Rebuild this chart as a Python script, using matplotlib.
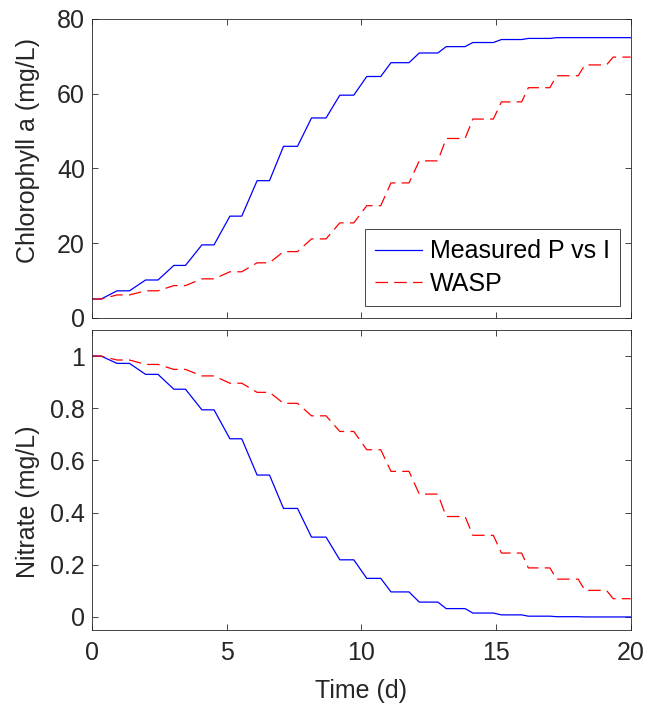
import matplotlib
matplotlib.use("Agg")
import matplotlib.pyplot as plt

# Times (d) where each daily rise/fall starts and ends
step_start = [0.34, 1.39, 2.45, 3.47, 4.53, 5.56, 6.59, 7.63, 8.69, 9.72,
              10.72, 11.77, 12.84, 13.85, 14.90, 15.95, 17.00, 18.05, 19.10]
step_end = [0.93, 1.99, 3.04, 4.08, 5.12, 6.13, 7.11, 8.15, 9.20, 10.20,
            11.10, 12.15, 13.15, 14.14, 15.20, 16.20, 17.25, 18.30, 19.35]

# Plateau values (night-time levels), one per day
chla_measured = [5.0, 7.2, 10.1, 14.0, 19.5, 27.2, 36.7, 45.9, 53.5, 59.6,
                 64.6, 68.3, 70.9, 72.6, 73.7, 74.5, 74.8, 75.0, 75.0, 75.0]
chla_wasp = [5.0, 6.1, 7.2, 8.6, 10.4, 12.3, 14.7, 17.7, 21.1, 25.4,
             30.0, 36.1, 42.0, 48.0, 53.2, 57.8, 61.6, 64.8, 67.7, 69.8]
no3_measured = [1.0, 0.972, 0.930, 0.873, 0.794, 0.683, 0.544, 0.416, 0.306, 0.219,
                0.148, 0.096, 0.057, 0.032, 0.015, 0.008, 0.003, 0.001, 0.0, 0.0]
no3_wasp = [1.0, 0.985, 0.968, 0.949, 0.924, 0.896, 0.861, 0.819, 0.771, 0.711,
            0.641, 0.558, 0.471, 0.385, 0.313, 0.245, 0.188, 0.145, 0.102, 0.070]
T_END = 20.0


def stair(levels):
    """Corner points of the daily stair curve."""
    t, v = [0.0], [levels[0]]
    for k in range(len(step_start)):
        t += [step_start[k], step_end[k]]
        v += [levels[k], levels[k + 1]]
    t.append(T_END)
    v.append(levels[-1])
    return t, v


plt.rcParams["font.family"] = ["Liberation Sans", "DejaVu Sans"]
FS = 18
GRAY = "#262626"

fig = plt.figure(figsize=(6.52, 7.07), dpi=100)
ax1 = fig.add_axes([92 / 652, 1 - 317.7 / 707, 538.7 / 652, 298.7 / 707])
ax2 = fig.add_axes([92 / 652, 1 - 630 / 707, 538.7 / 652, 300 / 707])

for ax, meas, wasp in [(ax1, chla_measured, chla_wasp), (ax2, no3_measured, no3_wasp)]:
    t, v = stair(meas)
    ax.plot(t, v, color="#0000ff", lw=0.9, label="Measured P vs I")
    t, v = stair(wasp)
    ax.plot(t, v, color="#ff0000", lw=0.9, dashes=(10, 5), label="WASP")
    ax.set_xlim(0, 20)
    ax.set_xticks([0, 5, 10, 15, 20])
    ax.tick_params(direction="in", length=4, width=0.6, top=True, right=True,
                   colors=GRAY, labelsize=FS, pad=5)
    for sp in ax.spines.values():
        sp.set_color(GRAY)
        sp.set_linewidth(0.6)

ax1.set_ylim(0, 80)
ax1.set_yticks([0, 20, 40, 60, 80])
ax1.tick_params(labelbottom=False)
ax1.set_ylabel("Chlorophyll a (mg/L)", color=GRAY, fontsize=FS)
ax1.yaxis.set_label_coords(-0.097, 0.56)

ax2.set_ylim(-0.05, 1.1)
ax2.set_yticks([0, 0.2, 0.4, 0.6, 0.8, 1])
ax2.set_yticklabels(["0", "0.2", "0.4", "0.6", "0.8", "1"])
ax2.tick_params(axis="x", pad=8)
ax2.set_ylabel("Nitrate (mg/L)", color=GRAY, fontsize=FS)
ax2.yaxis.set_label_coords(-0.097, 0.427)
ax2.set_xlabel("Time (d)", color=GRAY, fontsize=FS, labelpad=10)

leg = ax1.legend(loc="lower right", bbox_to_anchor=(0.98, 0.039), fontsize=FS,
                 fancybox=False, framealpha=1, edgecolor=GRAY, handlelength=1.9,
                 handletextpad=0.3, borderpad=0.4, labelspacing=0.35,
                 borderaxespad=0)
leg.get_frame().set_linewidth(0.6)

fig.savefig("out.png", dpi=100)
